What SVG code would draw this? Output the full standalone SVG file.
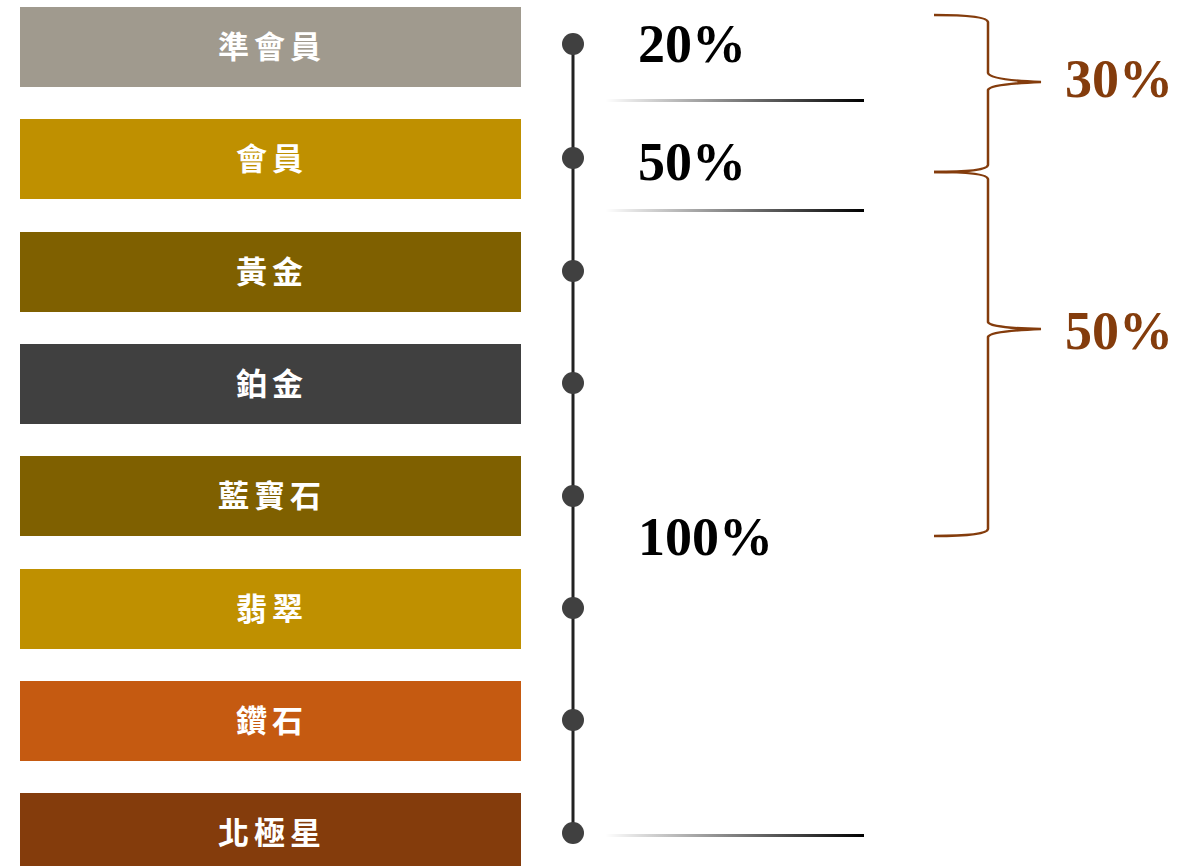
<svg xmlns="http://www.w3.org/2000/svg" width="1199" height="866" viewBox="0 0 1199 866">
<defs>
<linearGradient id="fade" x1="0" y1="0" x2="1" y2="0">
<stop offset="0" stop-color="#000" stop-opacity="0"/>
<stop offset="1" stop-color="#000" stop-opacity="1"/>
</linearGradient>
<style>
.lbl{font-family:"Liberation Serif","Noto Sans CJK TC",serif;font-weight:bold;font-size:31px;letter-spacing:5px;fill:#fff;text-anchor:middle}
.pct{font-family:"Liberation Serif",serif;font-weight:bold;font-size:54px;fill:#000}
.bpct{font-family:"Liberation Serif",serif;font-weight:bold;font-size:54px;fill:#843C0C}
.dot{fill:#404040}
.brace{fill:none;stroke:#843C0C;stroke-width:2.5}
</style>
</defs>
<rect width="1199" height="866" fill="#fff"/>
<g id="n1"><rect x="20" y="7" width="501" height="80" fill="#A09A8E"/><text class="lbl" x="272" y="58">準會員</text></g>
<g id="n2"><rect x="20" y="119" width="501" height="80" fill="#BF9000"/><text class="lbl" x="272" y="170">會員</text></g>
<g id="n3"><rect x="20" y="232" width="501" height="80" fill="#7F6000"/><text class="lbl" x="272" y="283">黃金</text></g>
<g id="n4"><rect x="20" y="344" width="501" height="80" fill="#404040"/><text class="lbl" x="272" y="395">鉑金</text></g>
<g id="n5"><rect x="20" y="456" width="501" height="80" fill="#7F6000"/><text class="lbl" x="272" y="507">藍寶石</text></g>
<g id="n6"><rect x="20" y="569" width="501" height="80" fill="#BF9000"/><text class="lbl" x="272" y="620">翡翠</text></g>
<g id="n7"><rect x="20" y="681" width="501" height="80" fill="#C55A11"/><text class="lbl" x="272" y="732">鑽石</text></g>
<g id="n8"><rect x="20" y="793" width="501" height="80" fill="#843C0C"/><text class="lbl" x="272" y="844">北極星</text></g>
<g id="connectors">
<line x1="573" y1="44" x2="573" y2="833" stroke="#222" stroke-width="3"/>
<circle class="dot" cx="573" cy="44" r="11"/>
<circle class="dot" cx="573" cy="158" r="11"/>
<circle class="dot" cx="573" cy="271" r="11"/>
<circle class="dot" cx="573" cy="383" r="11"/>
<circle class="dot" cx="573" cy="496" r="11"/>
<circle class="dot" cx="573" cy="608" r="11"/>
<circle class="dot" cx="573" cy="720" r="11"/>
<circle class="dot" cx="573" cy="833" r="11"/>
<rect x="605" y="99" width="259" height="3" fill="url(#fade)"/>
<rect x="605" y="209" width="259" height="3" fill="url(#fade)"/>
<rect x="605" y="834" width="259" height="3" fill="url(#fade)"/>
<path class="brace" d="M934 15 Q987 15 988 22 L988 73 Q990 80 1041 82 Q990 84 988 90 L988 165 Q987 172 934 172"/>
<path class="brace" d="M934 172 Q987 172 988 179 L988 322 Q990 328 1041 329 Q990 331 988 337 L988 529 Q987 536 934 536"/>
</g>
<text class="pct" x="638" y="62">20%</text>
<text class="pct" x="638" y="180">50%</text>
<text class="pct" x="638" y="555">100%</text>
<text class="bpct" x="1065" y="97">30%</text>
<text class="bpct" x="1065" y="349">50%</text>
</svg>
